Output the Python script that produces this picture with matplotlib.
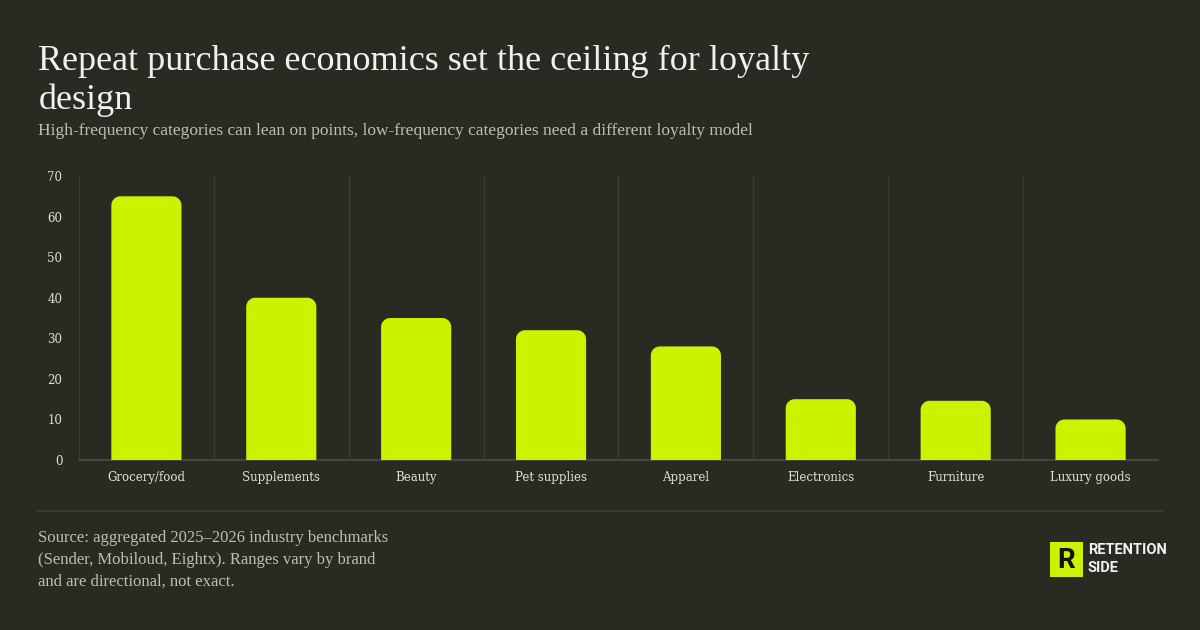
import matplotlib.pyplot as plt
import numpy as np
from matplotlib.patches import PathPatch, Rectangle
from matplotlib.path import Path
from matplotlib.lines import Line2D

# data
categories = ["Grocery/food", "Supplements", "Beauty", "Pet supplies",
              "Apparel", "Electronics", "Furniture", "Luxury goods"]
values = [65, 40, 35, 32, 28, 15, 14.6, 10]
y_ticks = [0, 10, 20, 30, 40, 50, 60, 70]

title = "Repeat purchase economics set the ceiling for loyalty\ndesign"
subtitle = ("High-frequency categories can lean on points, "
            "low-frequency categories need a different loyalty model")
source = ("Source: aggregated 2025\u20132026 industry benchmarks\n"
          "(Sender, Mobiloud, Eightx). Ranges vary by brand\n"
          "and are directional, not exact.")

BG = "#292b22"
LIME = "#ccf200"
GRID = "#3a3c33"
AXIS = "#4c4e46"
TXT = "#f2f2ec"
MUTED = "#bdbdb4"

fig = plt.figure(figsize=(12, 6.3), dpi=100, facecolor=BG)
ax = fig.add_axes([0.0658, 0.2698, 0.8992, 0.4508])
ax.set_facecolor(BG)

n = len(categories)
x = np.arange(n)
ax.set_xlim(-0.5, n - 0.5)
ax.set_ylim(0, 70)


def top_rounded_bar(xc, w, h, rx, ry):
    """one closed outline: square bottom, rounded top corners"""
    t = np.linspace(0, np.pi / 2, 12)
    left = xc - w / 2
    right = xc + w / 2
    pts = [(left, 0), (left, h - ry)]
    pts += [(left + rx - rx * np.cos(a), h - ry + ry * np.sin(a)) for a in t]
    pts += [(right - rx + rx * np.sin(a), h - ry + ry * np.cos(a)) for a in t]
    pts += [(right, 0), (left, 0)]
    return Path(pts, closed=True)


# rounded-top bars
bar_w = 0.52
px_x = 1079 / n          # pixels per x unit
px_y = 284 / 70          # pixels per y unit
radius_px = 9
for xi, v in zip(x, values):
    ax.add_patch(PathPatch(top_rounded_bar(xi, bar_w, v, radius_px / px_x, radius_px / px_y),
                           fc=LIME, ec="none", zorder=3))

# vertical separators between categories
ax.set_xticks(x)
ax.set_xticklabels(categories)
ax.set_xticks(np.arange(n + 1) - 0.5, minor=True)
ax.grid(True, which="minor", axis="x", color=GRID, lw=1, zorder=0)
ax.set_yticks(y_ticks)

for s in ["top", "right", "left"]:
    ax.spines[s].set_visible(False)
ax.spines["bottom"].set_color(AXIS)
ax.spines["bottom"].set_linewidth(1.2)

ax.tick_params(which="both", length=0)
ax.tick_params(axis="y", pad=12, labelsize=8.5, labelcolor="#e0e0d8")
ax.tick_params(axis="x", pad=8, labelsize=8.5, labelcolor="#e0e0d8")
for lab in ax.get_xticklabels() + ax.get_yticklabels():
    lab.set_fontfamily("DejaVu Serif")

# header
fig.text(0.032, 0.928, title, color=TXT, fontsize=26, family="Liberation Serif",
         va="top", ha="left", linespacing=1.18)
fig.text(0.032, 0.792, subtitle, color=MUTED, fontsize=12.5, family="Liberation Serif",
         va="center", ha="left")

# footer
fig.add_artist(Line2D([0.0317, 0.968], [0.189, 0.189], color=GRID, lw=1.5))
fig.text(0.032, 0.158, source, color=MUTED, fontsize=12, family="Liberation Serif",
         va="top", ha="left", linespacing=1.45)

# logo
fig.add_artist(Rectangle((1050 / 1200, 1 - 577 / 630), 33 / 1200, 35 / 630,
                         transform=fig.transFigure, fc=LIME, ec="none"))
fig.text(1066.5 / 1200, 1 - 560 / 630, "R", color="#111111", fontsize=20,
         fontweight="bold", family="Roboto", ha="center", va="center")
fig.text(1088 / 1200, 1 - 559 / 630, "RETENTION\nSIDE", color=TXT, fontsize=10.5,
         fontweight="bold", family="Roboto", ha="left", va="center", linespacing=1.35)

fig.savefig("out.png", dpi=100, facecolor=BG)
